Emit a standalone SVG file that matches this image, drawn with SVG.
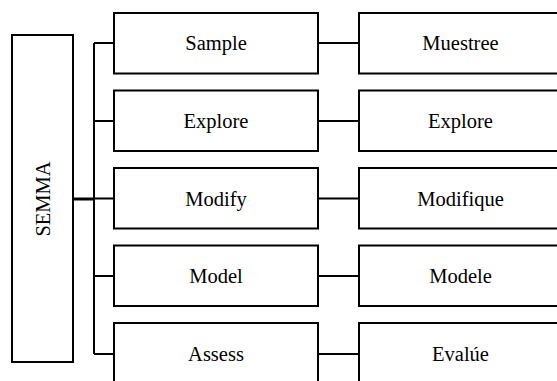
<svg xmlns="http://www.w3.org/2000/svg" width="557" height="381" viewBox="0 0 557 381">
<style>
.box{fill:#fff;stroke:#000;stroke-width:2}
.t{font-family:'Liberation Serif','Times New Roman','DejaVu Serif',serif;font-size:20.5px;fill:#000;text-anchor:middle}
.c{fill:none;stroke:#000;stroke-width:2}
</style>
<rect width="557" height="381" fill="#fff"/>
<g id="semma">
<rect class="box" x="12" y="35" width="61" height="327"/>
<text class="t" transform="translate(49.5,199) rotate(-90)">SEMMA</text>
</g>
<g id="connectors">
<path class="c" d="M94,43 V354"/>
<path class="c" d="M73,199 H94" style="stroke-width:3"/>
<path class="c" d="M94,43 H114 M94,121 H114 M94,198.5 H114 M94,276 H114 M94,354 H114"/>
<path class="c" d="M318,43 H359 M318,121 H359 M318,198.5 H359 M318,276 H359 M318,354 H359"/>
</g>
<g id="sample"><rect class="box" x="114" y="13" width="204" height="60.5"/><text class="t" x="216" y="50">Sample</text></g>
<g id="explore"><rect class="box" x="114" y="90.5" width="204" height="60.5"/><text class="t" x="216" y="128">Explore</text></g>
<g id="modify"><rect class="box" x="114" y="168" width="204" height="60.5"/><text class="t" x="216" y="205.5">Modify</text></g>
<g id="model"><rect class="box" x="114" y="245.5" width="204" height="60.5"/><text class="t" x="216" y="283">Model</text></g>
<g id="assess"><rect class="box" x="114" y="323" width="204" height="70"/><text class="t" x="216" y="361">Assess</text></g>
<g id="muestree"><rect class="box" x="359" y="13" width="204" height="60.5"/><text class="t" x="460.5" y="50">Muestree</text></g>
<g id="explore-es"><rect class="box" x="359" y="90.5" width="204" height="60.5"/><text class="t" x="460.5" y="128">Explore</text></g>
<g id="modifique"><rect class="box" x="359" y="168" width="204" height="60.5"/><text class="t" x="460.5" y="205.5">Modifique</text></g>
<g id="modele"><rect class="box" x="359" y="245.5" width="204" height="60.5"/><text class="t" x="460.5" y="283">Modele</text></g>
<g id="evalue"><rect class="box" x="359" y="323" width="204" height="70"/><text class="t" x="460.5" y="361">Evalúe</text></g>
</svg>
